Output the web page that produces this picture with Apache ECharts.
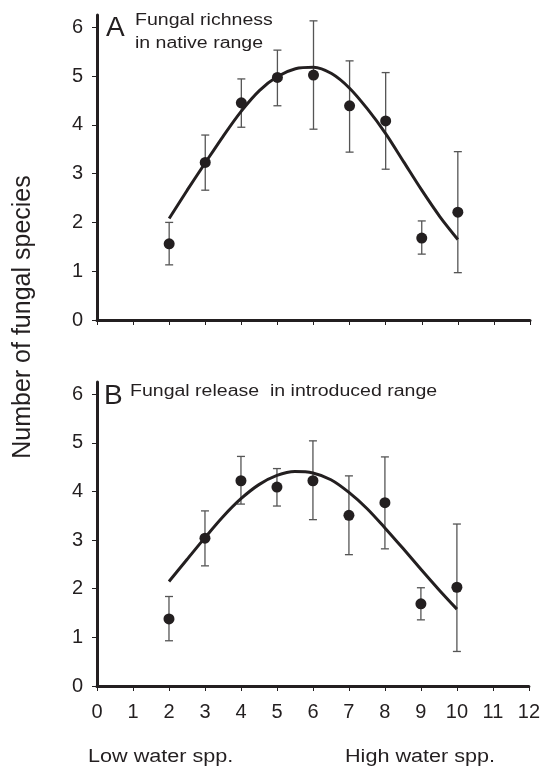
<!DOCTYPE html>
<html>
<head>
<meta charset="utf-8">
<script src="https://cdn.jsdelivr.net/npm/echarts@6/dist/echarts.min.js"></script>
<style>
html, body { margin: 0; padding: 0; background: #fff; }
#chart { width: 543px; height: 768px; }
</style>
</head>
<body>
<div id="chart"></div>
<script>
// number of water-preference rank (x) vs fungal species
const waterX = [2, 3, 4, 5, 6, 7, 8, 9, 10];

const richMean = [1.56, 3.23, 4.45, 4.97, 5.02, 4.39, 4.08, 1.68, 2.21];
const richLow = [1.13, 2.66, 3.95, 4.39, 3.91, 3.44, 3.09, 1.35, 0.97];
const richHigh = [2.0, 3.79, 4.94, 5.53, 6.13, 5.31, 5.07, 2.03, 3.45];

const relMean = [1.38, 3.04, 4.22, 4.09, 4.22, 3.51, 3.77, 1.69, 2.03];
const relLow = [0.93, 2.47, 3.74, 3.70, 3.42, 2.70, 2.82, 1.36, 0.71];
const relHigh = [1.84, 3.60, 4.72, 4.47, 5.04, 4.32, 4.71, 2.02, 3.33];

// fitted curves
const fitX = [2, 2.5, 3, 3.5, 4, 4.5, 5, 5.5, 6, 6.5, 7, 7.5, 8, 8.5, 9, 9.5, 10];
const richFit = [2.08, 2.66, 3.22, 3.77, 4.28, 4.70, 4.99, 5.15, 5.18, 5.05, 4.75, 4.32, 3.82, 3.24, 2.66, 2.12, 1.65];
const relFit = [2.15, 2.60, 3.05, 3.48, 3.85, 4.14, 4.33, 4.41, 4.38, 4.24, 3.98, 3.65, 3.25, 2.83, 2.40, 1.98, 1.58];

const yTicks = [0, 1, 2, 3, 4, 5, 6];

const ink = "#231f20";
const font = "Liberation Sans, Arial, sans-serif";

let chart = echarts.init(document.getElementById("chart"));

function pairs(xs, ys) {
    return xs.map((x, i) => [x, ys[i]]);
}

function errorBar(params, api) {
    let x = api.value(0);
    let lo = api.coord([x, api.value(1)]);
    let hi = api.coord([x, api.value(2)]);
    let half = 4;
    let style = { stroke: "#555", lineWidth: 1.3 };
    return {
        type: "group",
        children: [
            { type: "line", shape: { x1: lo[0], y1: lo[1], x2: hi[0], y2: hi[1] }, style: style },
            { type: "line", shape: { x1: hi[0] - half, y1: hi[1], x2: hi[0] + half, y2: hi[1] }, style: style },
            { type: "line", shape: { x1: lo[0] - half, y1: lo[1], x2: lo[0] + half, y2: lo[1] }, style: style },
        ],
    };
}

function xAxis(idx, showLabels) {
    return {
        type: "value",
        gridIndex: idx,
        min: 0,
        max: 12,
        interval: 1,
        splitLine: { show: false },
        axisLine: { show: true, onZero: false, lineStyle: { color: ink, width: 3 } },
        axisTick: { show: true, inside: false, length: 5, lineStyle: { color: ink, width: 1 } },
        axisLabel: { show: showLabels, color: ink, fontSize: 20, fontFamily: font, margin: 16 },
    };
}

function yAxis(idx) {
    return {
        type: "value",
        gridIndex: idx,
        min: 0,
        max: 6.25,
        splitLine: { show: false },
        axisLine: { show: true, onZero: false, lineStyle: { color: ink, width: 3 } },
        axisTick: { show: true, length: 5, customValues: yTicks, lineStyle: { color: ink, width: 1 } },
        axisLabel: { color: ink, fontSize: 20, fontFamily: font, margin: 14, customValues: yTicks },
    };
}

function panelSeries(idx, mean, low, high, fit) {
    return [
        {
            type: "custom",
            xAxisIndex: idx,
            yAxisIndex: idx,
            renderItem: errorBar,
            data: waterX.map((x, i) => [x, low[i], high[i]]),
            z: 2,
        },
        {
            type: "line",
            xAxisIndex: idx,
            yAxisIndex: idx,
            smooth: 0.3,
            showSymbol: false,
            lineStyle: { color: ink, width: 3 },
            data: pairs(fitX, fit),
            z: 3,
        },
        {
            type: "scatter",
            xAxisIndex: idx,
            yAxisIndex: idx,
            symbolSize: 11,
            itemStyle: { color: ink, opacity: 1 },
            data: pairs(waterX, mean),
            z: 4,
        },
    ];
}

chart.setOption({
    animation: false,
    grid: [
        { left: 97, right: 13, top: 15, height: 305 },
        { left: 97, right: 13, top: 382, height: 304 },
    ],
    xAxis: [xAxis(0, false), xAxis(1, true)],
    yAxis: [yAxis(0), yAxis(1)],
    series: [
        ...panelSeries(0, richMean, richLow, richHigh, richFit),
        ...panelSeries(1, relMean, relLow, relHigh, relFit),
    ],
    graphic: [
        {
            type: "text", x: 23, y: 317, rotation: Math.PI / 2,
            style: { text: "Number of fungal species", fill: ink, fontSize: 25, fontFamily: font, align: "center", verticalAlign: "middle" },
        },
        { type: "text", x: 106, y: 28, style: { text: "A", fill: ink, fontSize: 28, fontFamily: font, verticalAlign: "middle" } },
        {
            type: "text", x: 135, y: 9, scaleX: 1.22,
            style: { text: "Fungal richness\nin native range", fill: ink, fontSize: 16, lineHeight: 23, fontFamily: font },
        },
        { type: "text", x: 104, y: 396, style: { text: "B", fill: ink, fontSize: 28, fontFamily: font, verticalAlign: "middle" } },
        {
            type: "text", x: 130, y: 380, scaleX: 1.22,
            style: { text: "Fungal release  in introduced range", fill: ink, fontSize: 16, lineHeight: 23, fontFamily: font },
        },
        { type: "text", x: 88, y: 757, scaleX: 1.2, style: { text: "Low water spp.", fill: ink, fontSize: 18, fontFamily: font, verticalAlign: "middle" } },
        { type: "text", x: 345, y: 757, scaleX: 1.2, style: { text: "High water spp.", fill: ink, fontSize: 18, fontFamily: font, verticalAlign: "middle" } },
    ],
});
</script>
</body>
</html>
